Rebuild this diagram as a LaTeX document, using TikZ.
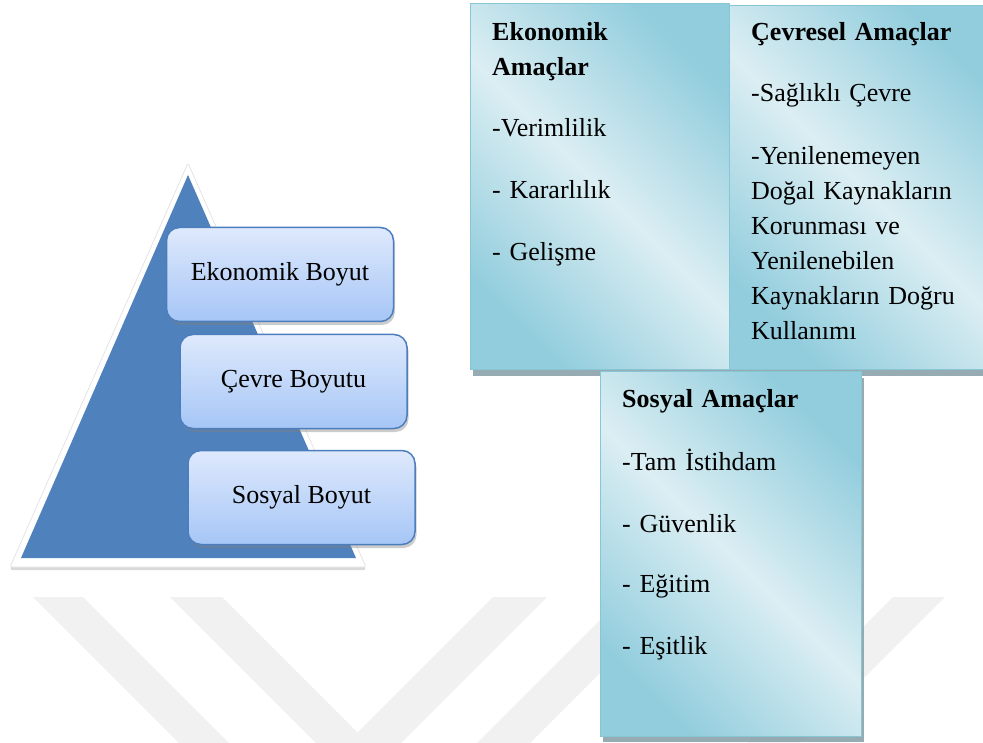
\documentclass[tikz,border=0pt]{standalone}
\usepackage{fontspec}
\setmainfont{Liberation Serif}
\usetikzlibrary{shadows}

\definecolor{pyrblue}{RGB}{79,129,189}
\definecolor{boxtop}{RGB}{222,233,252}
\definecolor{boxbot}{RGB}{166,198,246}
\definecolor{boxedge}{RGB}{76,126,190}
\definecolor{aquadark}{RGB}{146,205,221}
\definecolor{aqualight}{RGB}{219,238,243}
\definecolor{aquaedge}{RGB}{136,198,214}
\definecolor{shadowgray}{RGB}{140,162,170}
\definecolor{wmgray}{RGB}{241,241,241}
\definecolor{rimline}{RGB}{228,228,228}

\begin{document}
\begin{tikzpicture}[x=1pt,y=-1pt,
  dimbox/.style={draw=boxedge, line width=1.5pt, rounded corners=13pt,
    top color=boxtop, bottom color=boxbot,
    minimum width=227pt, minimum height=94pt, inner sep=0pt,
    font=\fontsize{26}{30}\selectfont,
    drop shadow={opacity=0.4, shadow xshift=1.5pt, shadow yshift=-3.5pt}},
  goalbox/.style={draw=aquaedge, line width=1pt,
    top color=aquadark, bottom color=aquadark, middle color=aqualight,
    shading angle=-45, inner sep=0pt,
    drop shadow={fill=shadowgray, opacity=0.9, shadow xshift=3pt, shadow yshift=-6pt}},
  goaltext/.style={anchor=base west, inner sep=0pt, text width=240pt,
    align=left, font=\fontsize{26}{35}\selectfont},
  wmstripe/.style={fill=wmgray}
]
\useasboundingbox (0,0) rectangle (983,743);

% faint background chevrons
\begin{scope}
  \clip (0,0) rectangle (983,743);
  \path[wmstripe] (33,597) -- (83,597) -- (250,764) -- (200,764) -- cycle;
  \path[wmstripe] (170,597) -- (222,597) -- (357.5,732.5) -- (493,597) -- (547,597) -- (358.5,785.5) -- cycle;
  \path[wmstripe] (623,597) -- (676,597) -- (506,767) -- (453,767) -- cycle;
  \path[wmstripe] (893,597) -- (945,597) -- (775,767) -- (723,767) -- cycle;
\end{scope}

% pyramid with white rim
\path[fill=white, draw=rimline, line width=0.8pt, rounded corners=2pt,
  drop shadow={opacity=0.3, shadow xshift=0pt, shadow yshift=-3pt}]
  (188,163) -- (366,567) -- (10,567) -- cycle;
\fill[pyrblue] (188,175) -- (356,558) -- (21,558) -- cycle;

% dimension boxes
\node[dimbox] (eko) at (280,274.5) {Ekonomik Boyut};
\node[dimbox] (cevre) at (293.5,381.5) {Çevre Boyutu};
\node[dimbox] (sosyal) at (301.5,497.5) {Sosyal Boyut};

% goal boxes
\node[goalbox, minimum width=259pt, minimum height=366pt] (ekoA) at (599.5,187) {};
\node[goalbox, minimum width=271pt, minimum height=364pt] (cevA) at (864.5,188) {};
\node[goalbox, minimum width=261pt, minimum height=364pt] (sosA) at (730.5,554) {};

\node[goaltext] (ekoT) at (492,41)
  {\textbf{Ekonomik}\\\textbf{Amaçlar}\\[26pt]-Verimlilik\\[27pt]- Kararlılık\\[27pt]- Gelişme};
\node[goaltext] (cevT) at (751,41)
  {\textbf{Çevresel Amaçlar}\\[26pt]-Sağlıklı Çevre\\[28pt]-Yenilenemeyen\\Doğal Kaynakların\\Korunması ve\\Yenilenebilen\\Kaynakların Doğru\\Kullanımı};
\node[goaltext] (sosT) at (622,407)
  {\textbf{Sosyal Amaçlar}\\[28pt]-Tam İstihdam\\[27pt]- Güvenlik\\[26pt]- Eğitim\\[27pt]- Eşitlik};
\end{tikzpicture}
\end{document}
